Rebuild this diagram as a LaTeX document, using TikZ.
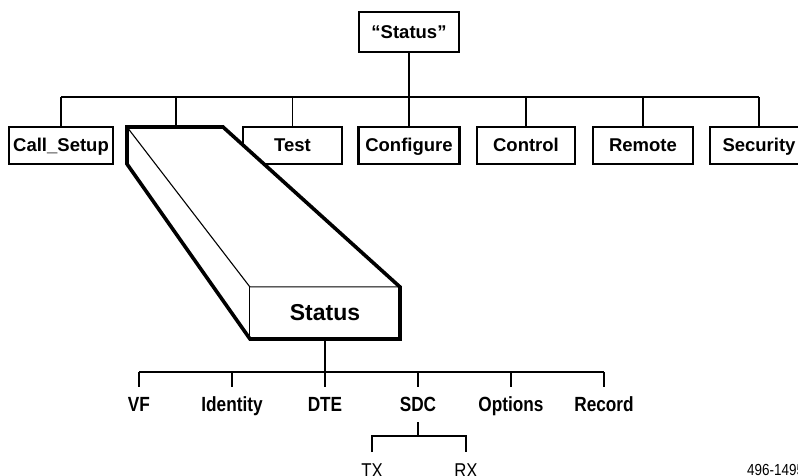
\documentclass[tikz,border=0pt]{standalone}
\usepackage{fontspec}
\setmainfont{Liberation Sans}
\newfontfamily\narrowfont[FakeStretch=0.84]{Liberation Sans}
\begin{document}
\begin{tikzpicture}[x=1pt,y=-1pt,
  box/.style={draw,line width=2.2pt,minimum width=#1,minimum height=37pt,inner sep=0pt,
    text height=13pt,text depth=0pt,
    font=\fontsize{18.5}{20}\selectfont\bfseries,fill=white},
  conn/.style={line width=1.6pt},
  thick3d/.style={line width=3.6pt,line join=miter},
  thin3d/.style={line width=1.1pt},
  lbl/.style={inner sep=0pt,anchor=base,font=\fontsize{20.5}{24}\narrowfont\bfseries},
  sublbl/.style={inner sep=0pt,anchor=base,font=\fontsize{20}{24}\narrowfont},
]
\useasboundingbox (0,0) rectangle (798,476);
% top level
\node[box=100pt,minimum height=40pt] (top) at (409,32) {“Status”};
\coordinate (bus) at (0,97);
\node[box=104pt] (cs) at (61,145.5) {Call\_Setup};
\node[box=99pt] (test) at (292.5,145.5) {Test};
\node[box=101pt] (conf) at (409,145.5) {Configure};
\node[box=98pt] (ctrl) at (526,145.5) {Control};
\node[box=100pt] (rem) at (643,145.5) {Remote};
\node[box=98pt] (sec) at (759,145.5) {Security};
\coordinate (t3) at (176,127);
\draw[conn] (top.south) -- (top.south |- bus);
\draw[conn] (cs.north |- bus) -- (sec.north |- bus);
\foreach \n in {cs,test,conf,ctrl,rem,sec}
  \draw[conn] (\n.north |- bus) -- (\n.north);
\draw[conn] (t3 |- bus) -- (t3);
% 3D box
\coordinate (p1) at (127,127);
\coordinate (p2) at (223,127);
\coordinate (p3) at (400,287);
\coordinate (p4) at (400,339);
\coordinate (p5) at (250,339);
\coordinate (p6) at (127,164);
\fill[white] (p1) -- (p2) -- (p3) -- (p4) -- (p5) -- (p6) -- cycle;
\node[inner sep=0pt,minimum width=150pt,minimum height=52pt,
  text height=15.5pt,text depth=0pt,
  font=\fontsize{23}{26}\selectfont\bfseries] (st) at (325,313) {Status};
\draw[thin3d] (p1) -- (st.north west) -- (st.north east);
\draw[thin3d] (st.north west) -- (st.south west);
\draw[thick3d] (p1) -- (p2) -- (p3) -- (p4) -- (p5) -- (p6) -- cycle;
% lower level
\coordinate (lb) at (0,372);
\coordinate (lt) at (0,387);
\node[lbl] (vf) at (139,411) {VF};
\node[lbl] (id) at (232,411) {Identity};
\node[lbl] (dte) at (325,411) {DTE};
\node[lbl] (sdc) at (418,411) {SDC};
\node[lbl] (opt) at (511,411) {Options};
\node[lbl] (rec) at (604,411) {Record};
\draw[conn] (st.south) -- (st.south |- lb);
\draw[conn] (vf |- lb) -- (rec |- lb);
\foreach \n in {vf,id,dte,sdc,opt,rec}
  \draw[conn] (\n |- lb) -- (\n |- lt);
% SDC sub
\coordinate (sb1) at (0,422);
\coordinate (sb2) at (0,436);
\coordinate (sb3) at (0,452);
\node[sublbl] (tx) at (372,477) {TX};
\node[sublbl] (rx) at (466,477) {RX};
\draw[conn] (sdc |- sb1) -- (sdc |- sb2);
\draw[conn] (tx |- sb3) -- (tx |- sb2) -- (rx |- sb2) -- (rx |- sb3);
% figure number
\node[inner sep=0pt,anchor=base west,font=\fontsize{16}{18}\narrowfont] (fig) at (747,475) {496-1495};
\end{tikzpicture}
\end{document}
